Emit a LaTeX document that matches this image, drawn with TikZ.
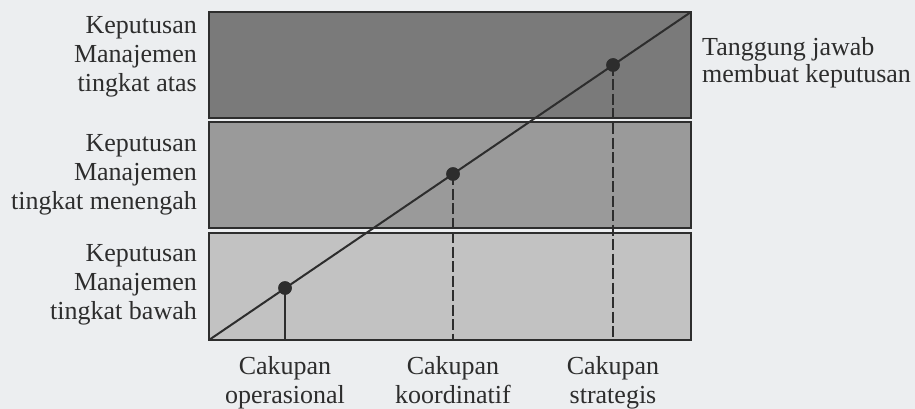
\documentclass[tikz,border=0pt]{standalone}
\usepackage{fontspec}
\setmainfont{Liberation Serif}
\definecolor{bgc}{RGB}{236,238,240}
\definecolor{bandtop}{RGB}{122,122,122}
\definecolor{bandmid}{RGB}{154,154,154}
\definecolor{bandlow}{RGB}{194,194,194}
\definecolor{ink}{RGB}{45,45,45}
\begin{document}
\begin{tikzpicture}[x=1pt,y=-1pt,
  band/.style={draw=ink,line width=1.6pt},
  lbl/.style={inner sep=0pt,text=ink,font=\fontsize{26}{29}\selectfont},
  dotc/.style={circle,fill=ink,inner sep=0pt,minimum size=13.5pt},
  solidv/.style={draw=ink,line width=2pt},
  dashv/.style={draw=ink,line width=2pt,dash pattern=on 11pt off 3.5pt},
  diag/.style={draw=ink,line width=2pt}]
\fill[bgc] (0,0) rectangle (915,409);
\useasboundingbox (0,0) rectangle (915,409);
% bands
\filldraw[band,fill=bandtop] (209,12) rectangle (691,118);
\filldraw[band,fill=bandmid] (209,122) rectangle (691,228);
\filldraw[band,fill=bandlow] (209,233) rectangle (691,340);
% diagonal
\coordinate (d0) at (209,340);
\coordinate (d1) at (691,12);
\coordinate (f1) at (285,340);
\coordinate (f2) at (453,340);
\coordinate (f3) at (613,340);
\node[dotc] (p1) at (285,288) {};
\node[dotc] (p2) at (453,174) {};
\node[dotc] (p3) at (613,65) {};
\draw[solidv] (p1.center) -- (f1);
\draw[dashv] (p2.center) -- (f2);
\draw[dashv] (p3.center) -- (f3);
\draw[diag] (d0) -- (d1);
\node[dotc] at (p1) {};
\node[dotc] at (p2) {};
\node[dotc] at (p3) {};
% left labels
\node[lbl,align=right,anchor=east] (l1) at (197,57) {Keputusan\\Manajemen\\tingkat atas};
\node[lbl,align=right,anchor=east] (l2) at (197,175) {Keputusan\\Manajemen\\tingkat menengah};
\node[lbl,align=right,anchor=east] (l3) at (197,285) {Keputusan\\Manajemen\\tingkat bawah};
% bottom labels
\node[lbl,align=center,anchor=north] (b1) at (285,356) {Cakupan\\operasional};
\node[lbl,align=center,anchor=north] (b2) at (453,356) {Cakupan\\koordinatif};
\node[lbl,align=center,anchor=north] (b3) at (613,356) {Cakupan\\strategis};
% right label
\node[lbl,align=left,anchor=north west,font=\fontsize{26}{27}\selectfont] (r1) at (702,37) {Tanggung jawab\\membuat keputusan};
\end{tikzpicture}
\end{document}
